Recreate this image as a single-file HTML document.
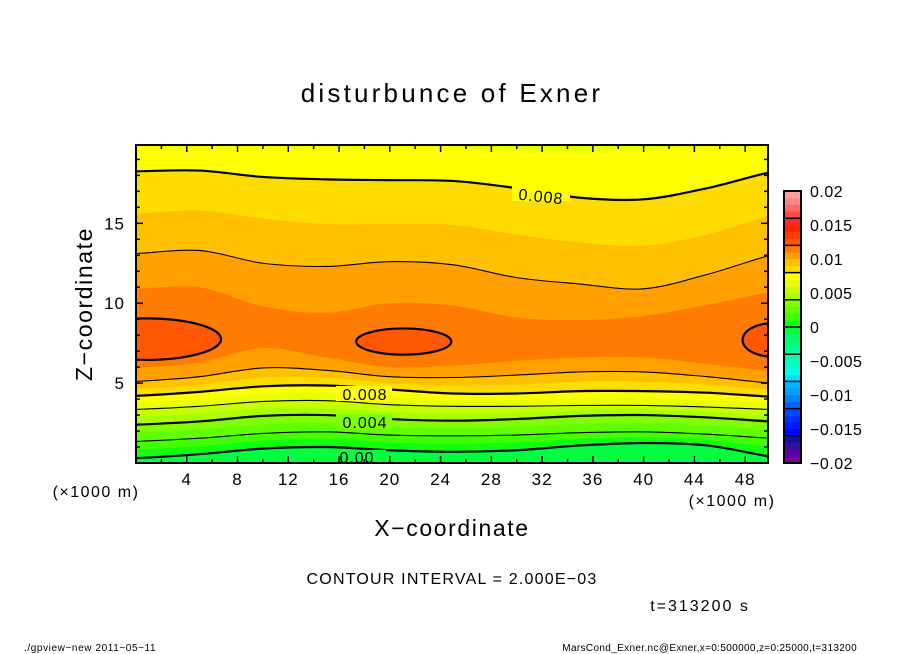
<!DOCTYPE html>
<html><head><meta charset="utf-8">
<style>
html,body{margin:0;padding:0;background:#fff;}
svg{display:block;font-family:"Liberation Sans",sans-serif;}
</style></head>
<body>
<svg id="chart" width="904" height="654" viewBox="0 0 904 654" xmlns="http://www.w3.org/2000/svg">
<defs><clipPath id="plotclip"><rect x="136" y="145" width="632" height="318"/></clipPath></defs>
<text x="452" y="102" text-anchor="middle" font-size="26" letter-spacing="3.2">disturbunce of Exner</text>
<g id="bands" clip-path="url(#plotclip)"></g>
<g id="lines" clip-path="url(#plotclip)"></g>
<g id="labels"></g>
<rect x="136" y="145" width="632" height="318" fill="none" stroke="#000" stroke-width="2"/>
<g id="axes"></g>
<g id="cbar"></g>
<text x="96" y="497" text-anchor="middle" font-size="16" letter-spacing="1.5">(×1000 m)</text>
<text x="732" y="506" text-anchor="middle" font-size="16" letter-spacing="1.5">(×1000 m)</text>
<text x="452" y="536" text-anchor="middle" font-size="23" letter-spacing="1.6">X−coordinate</text>
<text x="0" y="0" transform="translate(92,304) rotate(-90)" text-anchor="middle" font-size="23" letter-spacing="1.6">Z−coordinate</text>
<text x="452" y="584" text-anchor="middle" font-size="16" letter-spacing="1.2">CONTOUR INTERVAL = 2.000E−03</text>
<text x="700" y="611" text-anchor="middle" font-size="16" letter-spacing="2">t=313200 s</text>
<text x="24" y="651" font-size="10" letter-spacing="0.6">./gpview−new   2011−05−11</text>
<text x="857" y="651" text-anchor="end" font-size="10" letter-spacing="0.35">MarsCond_Exner.nc@Exner,x=0:500000,z=0:25000,t=313200</text>
</svg>
<script>
// ---- data ----
const xs = [0,5,10,15,20,25,30,35,40,45,50];
const lowLevels = [0.000,0.001,0.002,0.003,0.004,0.005,0.006,0.007,0.008,0.009,0.010,0.011];
const lowZ0  = [0.3,0.55,0.9,1.0,0.8,0.7,0.8,1.1,1.25,1.1,0.4];
const lowZ1  = [0.85,1.05,1.4,1.5,1.3,1.2,1.3,1.5,1.6,1.45,1.0];
const lowZ2  = [1.35,1.55,1.85,1.95,1.75,1.7,1.75,1.9,1.95,1.8,1.55];
const lowZ3  = [1.9,2.1,2.4,2.5,2.25,2.2,2.25,2.45,2.5,2.35,2.1];
const lowZ4  = [2.4,2.6,2.95,3.0,2.75,2.65,2.75,2.95,3.0,2.85,2.6];
const lowZ5  = [2.9,3.1,3.4,3.45,3.2,3.1,3.15,3.3,3.3,3.2,2.95];
const lowZ6  = [3.35,3.55,3.85,3.9,3.65,3.55,3.55,3.6,3.6,3.5,3.35];
const lowZ7  = [3.8,4.0,4.35,4.4,4.15,3.95,3.95,4.05,4.05,3.95,3.75];
const lowZ8  = [4.2,4.45,4.8,4.85,4.6,4.35,4.35,4.5,4.5,4.4,4.15];
const lowZ9  = [4.65,4.9,5.35,5.35,5.0,4.85,4.9,5.1,5.1,4.9,4.6];
const lowZ10 = [5.1,5.4,5.95,5.8,5.4,5.35,5.5,5.7,5.7,5.4,5.0];
const lowZ11 = [5.95,6.3,7.2,6.6,6.0,6.1,6.4,6.6,6.6,6.2,5.75];
const lowZ = [lowZ0,lowZ1,lowZ2,lowZ3,lowZ4,lowZ5,lowZ6,lowZ7,lowZ8,lowZ9,lowZ10,lowZ11];
const upLevels = [0.011,0.010,0.009,0.008,0.007];
const upZ11 = [10.9,11.0,9.8,9.4,10.0,9.85,9.1,8.95,9.2,9.9,10.7];
const upZ10 = [13.1,13.3,12.5,12.3,12.6,12.4,11.6,11.2,10.9,11.8,13.0];
const upZ9  = [15.6,15.8,15.3,14.95,14.95,14.9,14.3,13.8,13.6,14.3,15.5];
const upZ8  = [18.25,18.3,17.9,17.75,17.7,17.65,17.2,16.6,16.5,17.2,18.2];
const upZ7  = [20.5,20.5,20.3,20.2,20.0,19.8,19.55,19.5,19.6,19.85,20.2];
const upZ = [upZ11,upZ10,upZ9,upZ8,upZ7];
const blobX  = [0.8,21.1,50.2];
const blobZ  = [7.75,7.6,7.7];
const blobRX = [5.9,3.75,2.4];
const blobRZ = [1.3,0.82,1.05];
const cbTicks = [0.02,0.015,0.01,0.005,0,-0.005,-0.01,-0.015,-0.02];
const cbTickLabels = ["0.02","0.015","0.01","0.005","0","−0.005","−0.01","−0.015","−0.02"];
const xTicks = [4,8,12,16,20,24,28,32,36,40,44,48];
const zTicks = [5,10,15];

// ---- scales ----
const X0=136,X1=768,Y0=145,Y1=463, XMIN=0,XMAX=49.8, ZMIN=0,ZMAX=19.9;
const sx = v => X0 + (v-XMIN)/(XMAX-XMIN)*(X1-X0);
const sz = v => Y1 - (v-ZMIN)/(ZMAX-ZMIN)*(Y1-Y0);
const CB_TOP=191, CB_BOT=463, CB_MIN=-0.02, CB_MAX=0.02;
const sc = v => CB_BOT - (v-CB_MIN)/(CB_MAX-CB_MIN)*(CB_BOT-CB_TOP);

const binColors = ["#7a00a0","#5c00a0","#3010a0","#1010a0","#0000ff","#0018ff","#0030ff","#0048ff",
 "#0064ff","#0080ff","#00a0ff","#00b4ff","#00e0ff","#00ffe8","#00ffc8","#00ffb0",
 "#00ff98","#00ff78","#00ff60","#00ff40","#10ff10","#40ff00","#60ff00","#80ff00",
 "#a8ff00","#c8ff00","#e8ff00","#ffff00","#ffdc00","#ffc000","#ffa000","#ff7c00",
 "#ff5800","#ff3c00","#ff2400","#ff2828","#ff4848","#ff6868","#ff8484","#ffa0a0"];
function colorFor(v){ let i=Math.floor((v-CB_MIN)/0.001+1e-6); return binColors[Math.max(0,Math.min(39,i))]; }

const NS="http://www.w3.org/2000/svg";
function mk(tag, attrs, parent){ const e=document.createElementNS(NS,tag); for(const k in attrs) e.setAttribute(k,attrs[k]); parent.appendChild(e); return e; }

function curvePts(zArr){ return xs.map((x,i)=>[sx(x),sz(zArr[i])]); }
function smoothPath(p){
  let d=`M${p[0][0]},${p[0][1]}`;
  for(let i=0;i<p.length-1;i++){
    const p0=p[Math.max(0,i-1)],p1=p[i],p2=p[i+1],p3=p[Math.min(p.length-1,i+2)];
    const c1=[p1[0]+(p2[0]-p0[0])/6,p1[1]+(p2[1]-p0[1])/6];
    const c2=[p2[0]-(p3[0]-p1[0])/6,p2[1]-(p3[1]-p1[1])/6];
    d+=` C${c1[0]},${c1[1]} ${c2[0]},${c2[1]} ${p2[0]},${p2[1]}`;
  }
  return d;
}
function extPts(p){ return [[p[0][0]-20,p[0][1]],...p,[p[p.length-1][0]+20,p[p.length-1][1]]]; }
const bands=document.getElementById('bands'), lines=document.getElementById('lines');
let r=mk('rect',{x:120,y:130,width:670,height:350,fill:colorFor(-0.0005)},bands);


lowLevels.forEach((lv,i)=>{
  const p=curvePts(lowZ[i]);
  const e=mk('path',{d:smoothPath(extPts(p))+` L${X1+20},${Y0-20} L${X0-20},${Y0-20} Z`,fill:colorFor(lv+0.0005)},bands);
  
  
});
upLevels.forEach((lv,i)=>{
  const p=curvePts(upZ[i]);
  const e=mk('path',{d:smoothPath(extPts(p))+` L${X1+20},${Y0-20} L${X0-20},${Y0-20} Z`,fill:colorFor(lv-0.0005)},bands);
  
  
});
blobX.forEach((bx,i)=>{
  const cx=sx(bx), cy=sz(blobZ[i]), rx=sx(bx+blobRX[i])-cx, ry=cy-sz(blobZ[i]+blobRZ[i]);
  const e=mk('ellipse',{cx,cy,rx,ry,fill:colorFor(0.0125),stroke:'#000','stroke-width':2.2},bands);
  
  
});
function drawLine(zArr,lv,tag){
  const thick=Math.round(lv*1000)%4===0;
  const p=curvePts(zArr);
  const e=mk('path',{d:smoothPath(extPts(p)),fill:'none',stroke:'#000','stroke-width':thick?2.2:1.1},lines);
  
  
}
lowLevels.forEach((lv,i)=>{ if(Math.round(lv*1000)%2===0) drawLine(lowZ[i],lv,'low'); });
upLevels.forEach((lv,i)=>{ if(Math.round(lv*1000)%2===0) drawLine(upZ[i],lv,'up'); });

const labs=document.getElementById('labels');
function clabel(txt,x,y,rot,name){
  const g=mk('g',{transform:`translate(${x},${y}) rotate(${rot})`},labs);
  
  
  mk('text',{x:0,y:6,'text-anchor':'middle','font-size':16,'letter-spacing':1},g).textContent=txt;
}
function gapRect(x,y,w,h,lv){ const e=mk('rect',{x,y,width:w,height:h,fill:colorFor(lv)},labs);   }
gapRect(336,450,50,13,-0.0005); gapRect(336,414,56,15,0.0035); gapRect(336,386,56,15,0.0075); gapRect(512,185,58,16,0.0075);
clabel("0.00",357,457,0,'label-0.000');
clabel("0.004",365,422,0,'label-0.004');
clabel("0.008",365,394,0,'label-0.008-low');
clabel("0.008",541,196,6,'label-0.008-up');

const axes=document.getElementById('axes');
for(let v=2; v<50; v+=2){
  const x=sx(v), major=v%4===0, L=major?7:4;
  mk('line',{x1:x,y1:Y1,x2:x,y2:Y1-L,stroke:'#000','stroke-width':1.5},axes);
  mk('line',{x1:x,y1:Y0,x2:x,y2:Y0+L,stroke:'#000','stroke-width':1.5},axes);
}
for(let v=1; v<20; v++){
  const y=sz(v), major=v%5===0, L=major?7:4;
  mk('line',{x1:X0,y1:y,x2:X0+L,y2:y,stroke:'#000','stroke-width':1.5},axes);
  mk('line',{x1:X1,y1:y,x2:X1-L,y2:y,stroke:'#000','stroke-width':1.5},axes);
}
xTicks.forEach(v=>{
  const t=mk('text',{x:sx(v),y:485,'text-anchor':'middle','font-size':17,'letter-spacing':1},axes);
  
  
  t.textContent=v;
});
zTicks.forEach(v=>{
  const t=mk('text',{x:125,y:sz(v)+6,'text-anchor':'end','font-size':17,'letter-spacing':1},axes);
  
  
  t.textContent=v;
});

const cbar=document.getElementById('cbar');
binColors.forEach((c,i)=>{
  const lo=CB_MIN+i*0.001, y=sc(lo+0.001), h=sc(lo)-sc(lo+0.001);
  const e=mk('rect',{x:784,y:y,width:17,height:h+0.3,fill:c},cbar);
  
  
});
for(let v=-0.016; v<0.0199; v+=0.004){
  mk('line',{x1:784,y1:sc(v),x2:801,y2:sc(v),stroke:'#000','stroke-width':1.5},cbar);
}
mk('rect',{x:784,y:CB_TOP,width:17,height:CB_BOT-CB_TOP,fill:'none',stroke:'#000','stroke-width':2},cbar);
cbTicks.forEach((v,i)=>{
  const t=mk('text',{x:810,y:sc(v)+6,'font-size':16,'letter-spacing':0.5},cbar);
  
  
  t.textContent=cbTickLabels[i];
});
</script>
</body></html>
